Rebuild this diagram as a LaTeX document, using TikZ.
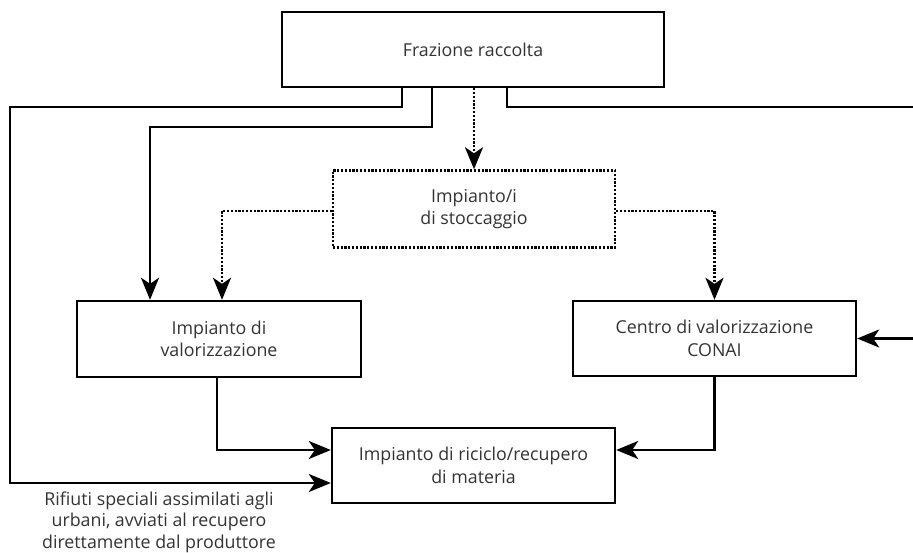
\documentclass[tikz,border=0pt]{standalone}
\usepackage{fontspec}
\setmainfont{Open Sans}
\usetikzlibrary{arrows.meta}
\begin{document}
\begin{tikzpicture}[x=1pt, y=-1pt,
		box/.style={shape=rectangle, draw, line width=2.4pt, align=center, inner sep=0pt,
			minimum width=283pt, minimum height=75pt, text=black!80,
			font=\fontsize{17.8}{22.5}\selectfont},
		flow/.style={line width=2.4pt, -{Stealth[length=22pt, width=18pt, inset=6pt]}},
		dots/.style={line width=2.4pt, dash pattern=on 2.2pt off 1.6pt},
		dotflow/.style={dots, -{Stealth[length=22pt, width=18pt, inset=6pt]}}]
		\useasboundingbox (0,0) rectangle (913,553);
		% boxes
		\node[box, minimum width=382pt] (frazione) at (473, 49.5) {Frazione raccolta};
		\node[box, dots, minimum width=282pt, minimum height=77pt] (stoccaggio) at (474, 209) {Impianto/i\\di stoccaggio};
		\node[box, minimum width=284pt, minimum height=76pt] (valoriz) at (219, 339) {Impianto di\\valorizzazione};
		\node[box] (conai) at (714.5, 338.5) {Centro di valorizzazione\\CONAI};
		\node[box] (riciclo) at (473.5, 465.5) {Impianto di riciclo/recupero\\di materia};
		\node[align=center, text=black!80, font=\fontsize{17.8}{21.5}\selectfont] (nota) at (159, 522)
			{Rifiuti speciali assimilati agli\\urbani, avviati al recupero\\direttamente dal produttore};
		% bends
		\coordinate (xl) at (402, 107);
		\coordinate (lb) at (10, 107);
		\coordinate (xm) at (432, 127);
		\coordinate (xr) at (507, 107);
		\coordinate (rb) at (920, 107);
		% solid connections
		\draw[flow] (frazione.south -| xl) -- (xl) -- (lb) |- ([yshift=-17.5pt]riciclo.west);
		\draw[flow] (frazione.south -| xm) -- (xm) -| ([xshift=-69pt]valoriz.north);
		\draw[flow] (frazione.south -| xr) -- (xr) -- (rb) |- (conai.east);
		\draw[flow] ([xshift=-2pt]valoriz.south) |- ([yshift=15.5pt]riciclo.west);
		\draw[flow] (conai.south) |- ([yshift=15.5pt]riciclo.east);
		% dotted connections
		\draw[dotflow] (frazione.south -| stoccaggio.north) -- (stoccaggio.north);
		\draw[dotflow] ([yshift=-2pt]stoccaggio.west) -| ([xshift=3pt]valoriz.north);
		\draw[dotflow] ([yshift=-2pt]stoccaggio.east) -| (conai.north);
	\end{tikzpicture}
\end{document}
